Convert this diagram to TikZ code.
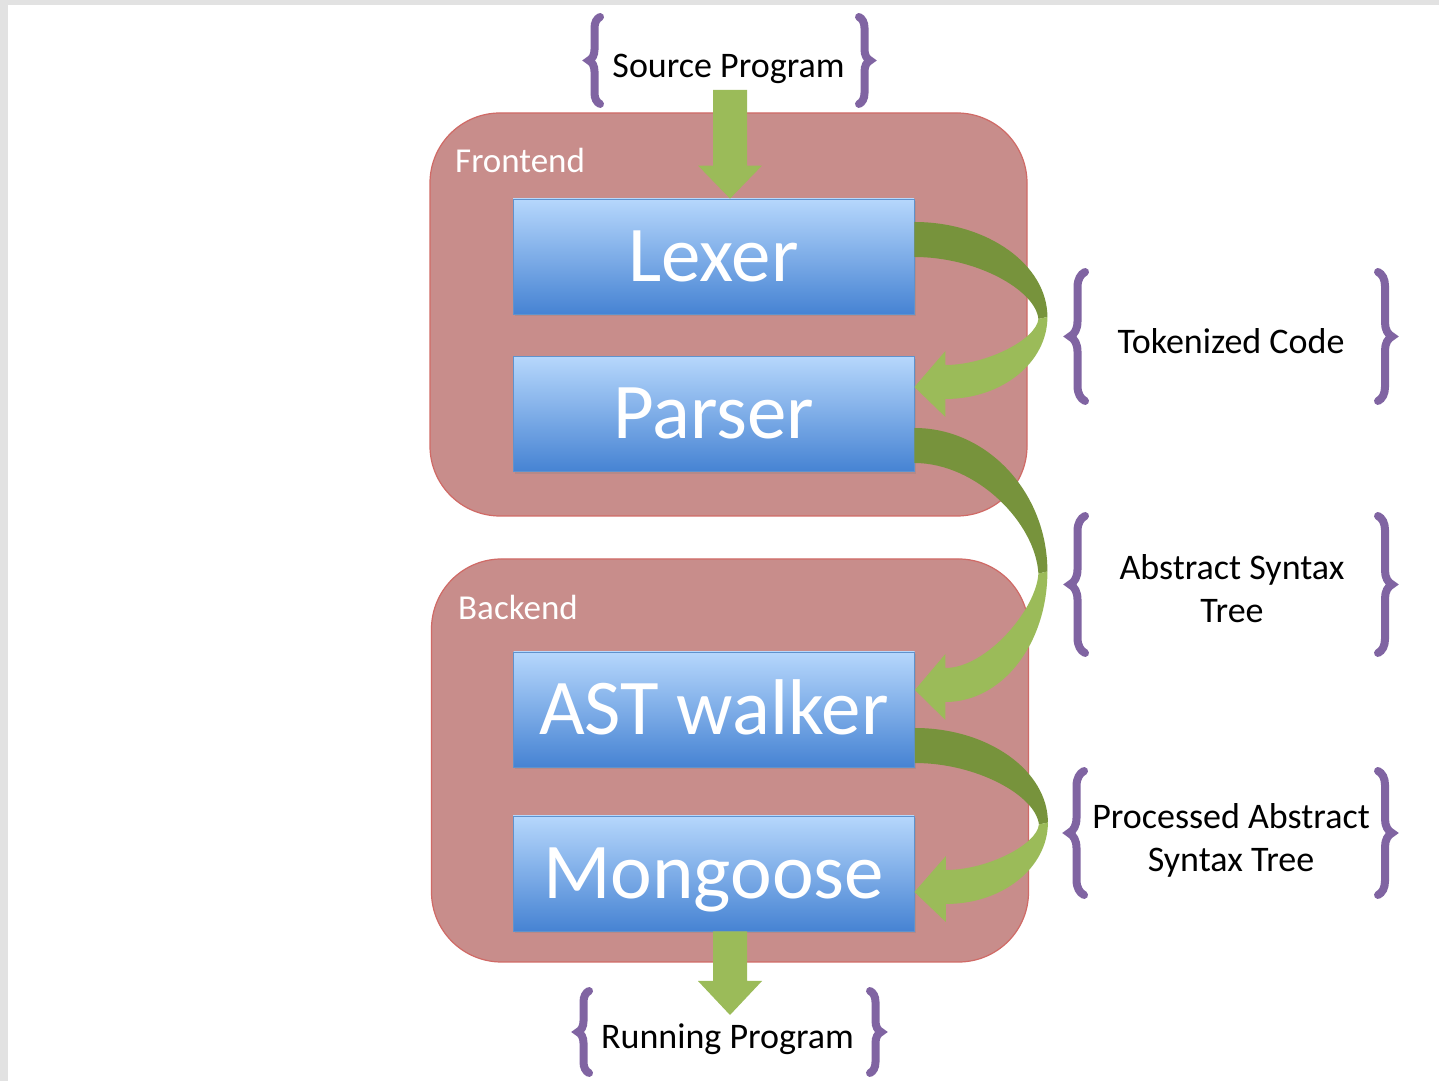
\documentclass[tikz,border=0pt]{standalone}
\usepackage{fontspec}
\setmainfont{Carlito}
\usetikzlibrary{calc,decorations.pathreplacing,shadows}

\definecolor{stagefill}{RGB}{200,141,139}
\definecolor{stageline}{RGB}{208,106,102}
\definecolor{bluetop}{RGB}{182,215,252}
\definecolor{bluebot}{RGB}{70,131,211}
\definecolor{blueline}{RGB}{96,146,204}
\definecolor{greenlight}{RGB}{155,187,89}
\definecolor{greendark}{RGB}{119,147,60}
\definecolor{bracepurple}{RGB}{128,100,162}
\definecolor{framegray}{RGB}{226,226,226}

% straight block arrow pointing down, from #1 to #2 (same x)
\newcommand\flowdown[3]{%
  \fill[greenlight] let \p1=(#1), \p2=(#2) in
    (\x1-17pt,\y1) -- (\x1+17pt,\y1) -- (\x1+17pt,\y2+#3) -- (\x1+32pt,\y2+#3)
    -- (\x2,\y2) -- (\x1-32pt,\y2+#3) -- (\x1-17pt,\y2+#3) -- cycle;}

% ribbon arrow that leaves the east side of #1 and bends back into the east side of #2
% #3: offset of the ribbon's upper edge from #1.east, #4: offset of the tip from #2.east
% back face (dark) first, then the front face (light) with the head
\newcommand\bendback[4]{%
  \fill[greendark] let \p1=(#1.east), \p2=(#2.east),
      \n1={\y1+(#3)}, \n2={\n1-35pt}, \n3={\y2+(#4)}, \n4={(\n2+\n3)/2+5pt} in
    (\x1,\n1) .. controls (\x1+73pt,\n1) and (\x1+133pt,{\n1-0.45*(\n1-\n4)}) .. (\x1+133pt,\n4)
    -- (\x1+124pt,\n4-2pt)
    .. controls (\x1+121pt,{\n4+0.45*(\n2-\n4)}) and (\x1+62pt,\n2) .. (\x1,\n2) -- cycle;
  \fill[greenlight] let \p1=(#1.east), \p2=(#2.east),
      \n1={\y1+(#3)}, \n2={\n1-35pt}, \n3={\y2+(#4)}, \n4={(\n2+\n3)/2+5pt} in
    (\x1+133pt,\n4) .. controls (\x1+133pt,{\n4-0.552*(\n4-\n3+12pt)}) and (\x1+88pt,\n3-12pt) .. (\x1+31pt,\n3-12pt)
    -- (\x1+31pt,\n3-30pt) -- (\x2,\n3) -- (\x1+31pt,\n3+36pt) -- (\x1+31pt,\n3+22pt)
    .. controls (\x1+72pt,\n3+22pt) and (\x1+122pt,{\n4-0.32*(\n4-\n3)}) .. (\x1+124pt,\n4-2pt) -- cycle;}

\begin{document}
\begin{tikzpicture}[x=1pt,y=1pt,
  stage/.style={draw=stageline, line width=1.2pt, fill=stagefill, rounded corners=70pt,
    minimum width=597pt, minimum height=403pt, inner sep=0pt},
  stagelabel/.style={text=white, font=\fontsize{35}{42}\selectfont, anchor=base west, inner sep=0pt},
  phase/.style={rectangle, draw=blueline, line width=0.8pt, top color=bluetop, bottom color=bluebot,
    minimum width=401pt, minimum height=115pt, text=white, font=\fontsize{79}{90}\selectfont,
    text height=50pt, text depth=0pt, inner sep=0pt,
    drop shadow={shadow xshift=1.5pt, shadow yshift=-2.5pt, opacity=0.25}},
  artifact/.style={font=\fontsize{36}{43}\selectfont, align=center, inner sep=0pt},
  curly/.style={draw=bracepurple, line width=8pt, line cap=round, decorate,
    decoration={brace, amplitude=#1}}]

% page and its grey frame strips
\fill[white] (0,0) rectangle (1439,1081);
\fill[framegray] (0,0) rectangle (8,1081);
\fill[framegray] (0,1076) rectangle (1439,1081);
\useasboundingbox (0,0) rectangle (1439,1081);

% stages
\node[stage] (fe) at (728.5,766.5) {};
\node[stage] (be) at (730,320.5) {};
\node[stagelabel] (felabel) at (455,908) {Frontend};
\node[stagelabel] (belabel) at (458,461.5) {Backend};

% phases
\node[phase] (lexer) at (713.5,824.5) {Lexer};
\node[phase] (parser) at (713.5,667) {Parser};
\node[phase] (walker) at (714,371.5) {AST walker};
\node[phase] (mongoose) at (713.5,207.5) {Mongoose};

% intermediate artifacts
\node[artifact, anchor=base] (src) at (728.5,1003) {Source Program};
\node[artifact, anchor=base] (run) at (727.5,33) {Running Program};
\node[artifact, anchor=base] (tok) at (1231,727) {Tokenized Code};
\node[artifact] (ast) at (1232,492) {Abstract Syntax\\Tree};
\node[artifact] (past) at (1231,240.5) {Processed Abstract\\Syntax Tree};

% braces around the artifacts
\draw[curly=11pt] (600,977) -- (600,1064);
\draw[curly=11pt] (859,1064) -- (859,977);
\draw[curly=11pt] (589,8) -- (589,90);
\draw[curly=11pt] (870,90) -- (870,8);
\draw[curly=15pt] (1085,680) -- (1085,809);
\draw[curly=14pt] (1378,809) -- (1378,680);
\draw[curly=15pt] (1085,428) -- (1085,565);
\draw[curly=14pt] (1378,565) -- (1378,428);
\draw[curly=15pt] (1084,186) -- (1084,310);
\draw[curly=14pt] (1378,310) -- (1378,186);

% flow
\coordinate (srcout) at (730,991);
\coordinate (runin) at (730,66);
\flowdown{srcout}{srcout |- lexer.north}{33pt}
\flowdown{runin |- mongoose.south}{runin}{34pt}
\bendback{lexer}{parser}{34.5pt}{27pt}
\bendback{parser}{walker}{-14pt}{19.5pt}
\bendback{walker}{mongoose}{-18.5pt}{-18.5pt}
\end{tikzpicture}
\end{document}
